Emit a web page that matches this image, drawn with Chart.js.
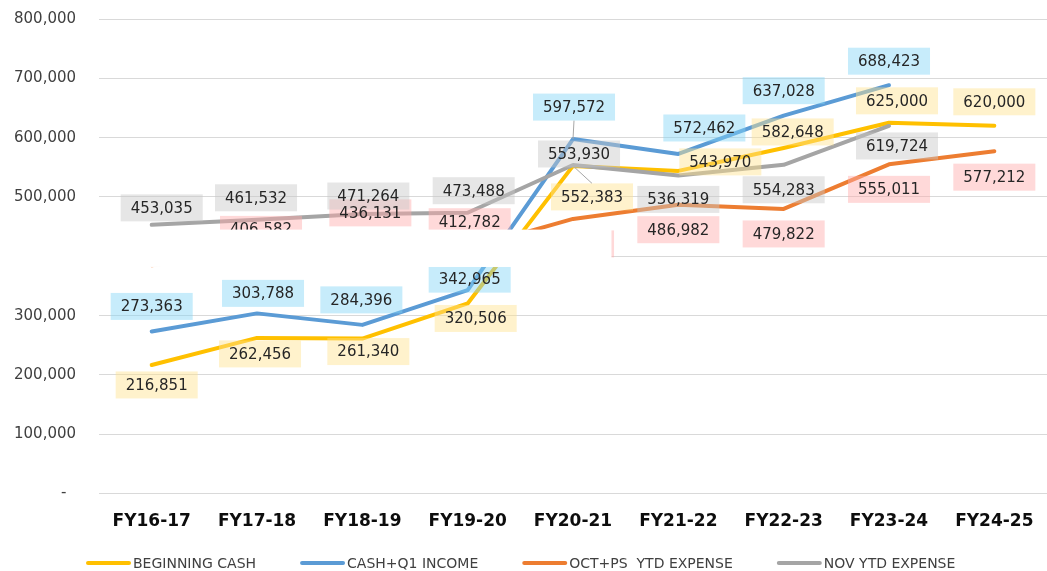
<!DOCTYPE html>
<html>
<head>
<meta charset="utf-8">
<title>Beginning cash vs YTD expense</title>
<script src="https://cdn.jsdelivr.net/npm/chart.js@4.4.1/dist/chart.umd.min.js"></script>
<style>
  html, body { margin: 0; padding: 0; background: #fff; }
  canvas { display: block; }
</style>
</head>
<body>
<canvas id="cashChart" width="1047" height="571"></canvas>
<script>
// fiscal years on the x axis
const years = ['FY16-17', 'FY17-18', 'FY18-19', 'FY19-20', 'FY20-21', 'FY21-22', 'FY22-23', 'FY23-24', 'FY24-25'];

// series values
const beginningCash = [216851, 262456, 261340, 320506, 552383, 543970, 582648, 625000, 620000];
const cashQ1Income  = [273363, 303788, 284396, 342965, 597572, 572462, 637028, 688423, null];
const octPsExpense  = [385000, 406582, 436131, 412782, 463000, 486982, 479822, 555011, 577212];
const novExpense    = [453035, 461532, 471264, 473488, 553930, 536319, 554283, 619724, null];

// y axis
const yMin = 0;
const yMax = 800000;
const yStep = 100000;

// where each value label sits relative to its point [dx, dy, leader line]
const labelShift = [
  [[5, 20], [3, 16], [6, 13], [8, 15], [19, 31, true], [42, -9], [9, -16], [8, -22], [0, -24]],
  [[0, -25], [6, -20], [-1, -25], [2, -11], [1, -32, true], [26, -26], [0, -25], [0, -24], null],
  [[0, -19], [4, -23], [8, -22], [2, -27], [0, 25], [0, 25], [0, 25], [0, 25], [0, 26]],
  [[10, -17], [-1, -22], [6, -18], [6, -22], [6, -11], [0, 24], [0, 25], [8, 20], null]
];
const labelFill = ['#ffe28e', '#83d5f6', '#ffabab', '#c7c7c7'];

// part of the picture that is blanked out in the original screenshot
const blankTop = 445000;
const blankBottom = 382000;
const blankRightCategory = 4.365;

const valueLabels = {
  id: 'valueLabels',
  afterDatasetsDraw(chart) {
    const ctx = chart.ctx;
    ctx.save();
    ctx.font = '15px "DejaVu Sans"';
    const items = [];
    chart.data.datasets.forEach((ds, di) => {
      const meta = chart.getDatasetMeta(di);
      ds.data.forEach((v, i) => {
        if (v === null || !labelShift[di][i]) return;
        const pt = meta.data[i];
        const [dx, dy, lead] = labelShift[di][i];
        const text = v.toLocaleString('en-US');
        items.push({
          x: pt.x, y: pt.y, cx: pt.x + dx, cy: pt.y + dy,
          w: ctx.measureText(text).width + 20, h: 27,
          text, fill: labelFill[di], lead
        });
      });
    });

    // leader lines
    ctx.strokeStyle = '#a6a6a6';
    ctx.lineWidth = 1;
    items.filter(it => it.lead).forEach(it => {
      const ey = it.cy > it.y ? it.cy - it.h / 2 : it.cy + it.h / 2;
      ctx.beginPath();
      ctx.moveTo(it.x, it.y);
      ctx.lineTo(it.cx, ey);
      ctx.stroke();
    });

    // boxes (see-through, like the original)
    ctx.globalAlpha = 0.45;
    items.forEach(it => {
      ctx.fillStyle = it.fill;
      ctx.fillRect(it.cx - it.w / 2, it.cy - it.h / 2, it.w, it.h);
    });
    ctx.globalAlpha = 1;

    ctx.fillStyle = '#262626';
    ctx.textAlign = 'center';
    ctx.textBaseline = 'middle';
    items.forEach(it => ctx.fillText(it.text, it.cx, it.cy + 1));
    ctx.restore();
  }
};

const blankBand = {
  id: 'blankBand',
  afterDraw(chart) {
    const { ctx, scales: { x, y } } = chart;
    const top = y.getPixelForValue(blankTop);
    const bottom = y.getPixelForValue(blankBottom);
    const right = x.getPixelForValue(blankRightCategory);
    ctx.save();
    ctx.fillStyle = '#fff';
    ctx.fillRect(0, top, right, bottom - top);
    ctx.restore();
  }
};

const lineLegend = {
  id: 'lineLegend',
  afterDraw(chart) {
    const ctx = chart.ctx;
    const y = 563;
    const sample = 45;
    const gap = 2;
    const spacing = 44;
    let x = 86;
    ctx.save();
    ctx.font = '14px "DejaVu Sans"';
    ctx.textAlign = 'left';
    ctx.textBaseline = 'middle';
    chart.data.datasets.forEach(ds => {
      ctx.strokeStyle = ds.borderColor;
      ctx.lineWidth = 4;
      ctx.lineCap = 'round';
      ctx.beginPath();
      ctx.moveTo(x + 2, y);
      ctx.lineTo(x + sample - 2, y);
      ctx.stroke();
      ctx.fillStyle = '#404040';
      ctx.fillText(ds.label, x + sample + gap, y + 1);
      x += sample + gap + ctx.measureText(ds.label).width + spacing;
    });
    ctx.restore();
  }
};

const lineStyle = {
  borderWidth: 4,
  pointRadius: 0,
  pointHoverRadius: 0,
  tension: 0,
  borderCapStyle: 'round',
  borderJoinStyle: 'round',
  fill: false
};

new Chart(document.getElementById('cashChart').getContext('2d'), {
  type: 'line',
  data: {
    labels: years,
    datasets: [
      { label: 'BEGINNING CASH', data: beginningCash, borderColor: '#FFC000', backgroundColor: '#FFC000', order: 3, ...lineStyle },
      { label: 'CASH+Q1 INCOME', data: cashQ1Income, borderColor: '#5B9BD5', backgroundColor: '#5B9BD5', order: 2, ...lineStyle },
      { label: 'OCT+PS  YTD EXPENSE', data: octPsExpense, borderColor: '#ED7D31', backgroundColor: '#ED7D31', order: 1, ...lineStyle },
      { label: 'NOV YTD EXPENSE', data: novExpense, borderColor: '#A5A5A5', backgroundColor: '#A5A5A5', order: 0, ...lineStyle }
    ]
  },
  options: {
    responsive: false,
    animation: false,
    layout: { padding: { top: 19, left: 14, right: 0, bottom: 39 } },
    plugins: {
      legend: { display: false },
      tooltip: { enabled: false }
    },
    scales: {
      x: {
        offset: true,
        grid: { display: true, drawOnChartArea: false, drawTicks: true, tickLength: 18, color: 'rgba(0,0,0,0)', tickColor: 'rgba(0,0,0,0)' },
        border: { display: false },
        ticks: {
          padding: 0,
          color: '#0d0d0d',
          font: { family: '"DejaVu Sans"', size: 17, weight: 'bold' }
        }
      },
      y: {
        min: yMin,
        max: yMax,
        grid: { color: '#d9d9d9', lineWidth: 1, drawTicks: true, tickLength: 23, tickColor: 'rgba(0,0,0,0)' },
        border: { display: false },
        ticks: {
          stepSize: yStep,
          padding: 0,
          color: '#404040',
          font: { family: '"DejaVu Sans"', size: 15 },
          callback: v => v === 0 ? '-  ' : v.toLocaleString('en-US')
        }
      }
    }
  },
  plugins: [valueLabels, blankBand, lineLegend]
});
</script>
</body>
</html>
